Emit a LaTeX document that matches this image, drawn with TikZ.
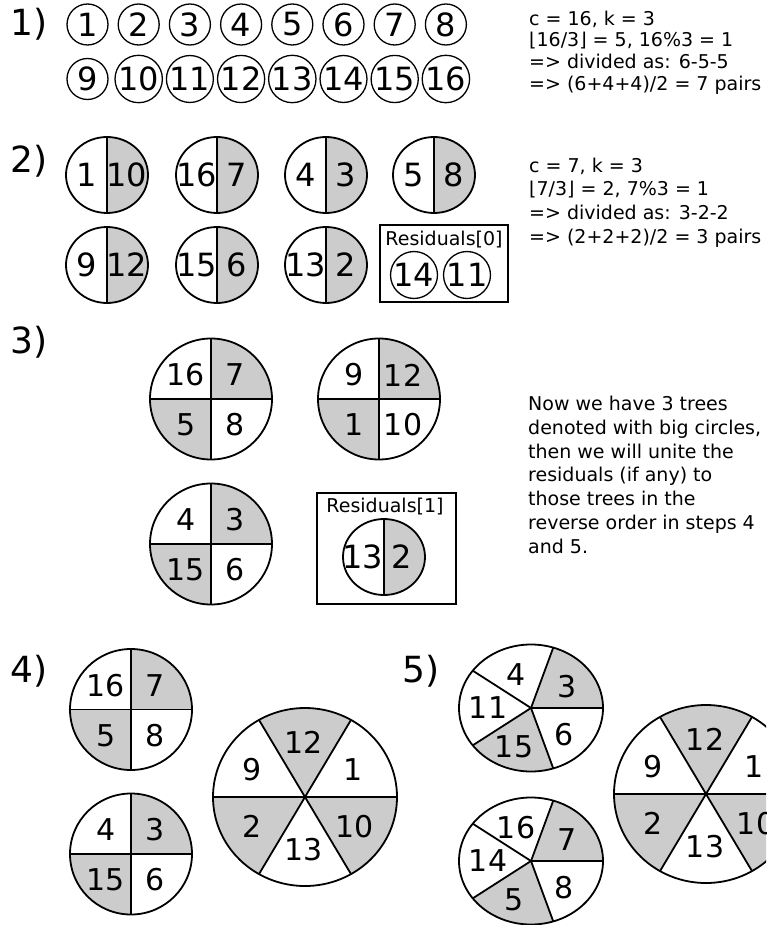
\documentclass[tikz,border=0pt]{standalone}
\usepackage{fontspec}
\setmainfont{DejaVu Sans}
\usepackage{tikz}
\usetikzlibrary{positioning}
\definecolor{pairGray}{HTML}{CCCCCC}
\newcommand{\numfont}{\fontsize{32}{32}\selectfont}
\newcommand{\treefont}{\fontsize{30}{30}\selectfont}
\newcommand{\stepfont}{\fontsize{36}{36}\selectfont}
\tikzset{
  leaf/.style={circle, draw, line width=1.3pt, minimum size=41pt,
    inner sep=0pt, font=\numfont},
  rim/.style={draw=black, line width=1.8pt},
  cut/.style={draw=black, line width=1.8pt},
  thincut/.style={draw=black, line width=1.3pt},
  shade/.style={fill=pairGray},
  pairnum/.style={font=\numfont, inner sep=0pt},
  treenum/.style={font=\treefont, inner sep=0pt},
  steplabel/.style={font=\stepfont, anchor=base west, inner sep=0pt},
  note/.style={align=left, anchor=north west, inner sep=0pt},
  resbox/.style={draw, line width=1.4pt, inner sep=0pt},
  restitle/.style={font=\fontsize{19}{19}\selectfont, inner sep=0pt},
}

\begin{document}
\begin{tikzpicture}[x=1pt, y=-1pt]
    \useasboundingbox (0,0) rectangle (766,925);
    \clip (0,0) rectangle (766,925);
    \node[steplabel] (lab1) at (10,36) {1)};
    \node[steplabel] (lab2) at (10,173) {2)};
    \node[steplabel] (lab3) at (10,353) {3)};
    \node[steplabel] (lab4) at (10,682) {4)};
    \node[steplabel] (lab5) at (402,682) {5)};
    % step 1: single leaves
    \foreach \n [count=\i from 0] in {1,...,8}
      \node[leaf] (leaf\n) at (87.5+51.2*\i, 24.5) {\n};
    \foreach \n [count=\i from 0] in {9,...,16}
      \node[leaf] (leaf\n) at (87.5+51.2*\i, 79) {\n};
    \node[note, font=\fontsize{19}{21.7}\selectfont] (note1) at (529,10.6)
      {c = 16, k = 3\\ ⌊16/3⌋ = 5, 16\%3 = 1\\ => divided as: 6-5-5\\
       => (6+4+4)/2 = 7 pairs};
    % step 2: pairs
    \foreach \x/\y/\nA/\nB [count=\k] in {107/175/1/10, 217/175/16/7,
        326/175/4/3, 434/175/5/8, 107/265/9/12, 217/265/15/6, 326/265/13/2} {
      \fill[shade] (\x,\y-38) arc[start angle=-90, end angle=90,
        x radius=41, y radius=38] -- cycle;
      \draw[thincut] (\x,\y-38) -- (\x,\y+38);
      \draw[rim] (\x,\y) ellipse[x radius=41, y radius=38];
      \node[pairnum] (pairL\k) at (\x-20,\y) {\nA};
      \node[pairnum] (pairR\k) at (\x+20,\y) {\nB};
    }
    \node[resbox, minimum width=128pt, minimum height=77pt] (res0)
      at (444,263.5) {};
    \node[restitle] (res0title) at (444,240) {Residuals[0]};
    \node[leaf] (leaf14r) at (414,275) {14};
    \node[leaf] (leaf11r) at (467,275) {11};
    \node[note, font=\fontsize{19}{23.7}\selectfont] (note2) at (529,157.6)
      {c = 7, k = 3\\ ⌊7/3⌋ = 2, 7\%3 = 1\\ => divided as: 3-2-2\\
       => (2+2+2)/2 = 3 pairs};
    % steps 3 and 4: trees of four
    \foreach \x/\y/\nA/\nB/\nC/\nD [count=\k] in {211/399/16/7/5/8,
        379/399/9/12/1/10, 211/544/4/3/15/6, 131/709.5/16/7/5/8,
        131/854/4/3/15/6} {
      \fill[shade] (\x,\y) -- (\x,\y-60.5) arc[start angle=-90, end angle=0,
        x radius=61, y radius=60.5] -- cycle;
      \fill[shade] (\x,\y) -- (\x,\y+60.5) arc[start angle=90, end angle=180,
        x radius=61, y radius=60.5] -- cycle;
      \draw[cut] (\x-61,\y) -- (\x+61,\y) (\x,\y-60.5) -- (\x,\y+60.5);
      \draw[rim] (\x,\y) ellipse[x radius=61, y radius=60.5];
      \node[treenum] (quadA\k) at (\x-25,\y-24) {\nA};
      \node[treenum] (quadB\k) at (\x+24,\y-24) {\nB};
      \node[treenum] (quadC\k) at (\x-25,\y+26) {\nC};
      \node[treenum] (quadD\k) at (\x+24,\y+26) {\nD};
    }
    \node[resbox, minimum width=139pt, minimum height=111pt] (res1)
      at (386.5,548.5) {};
    \node[restitle] (res1title) at (385,507) {Residuals[1]};
    \fill[shade] (384,519) arc[start angle=-90, end angle=90,
      x radius=41, y radius=38] -- cycle;
    \draw[thincut] (384,519) -- (384,595);
    \draw[rim] (384,557) ellipse[x radius=41, y radius=38];
    \node[pairnum] (res1L) at (363,557) {13};
    \node[pairnum] (res1R) at (402,557) {2};
    \node[note, font=\fontsize{19}{23.9}\selectfont] (note3) at (528,395.6)
      {Now we have 3 trees\\ denoted with big circles,\\
       then we will unite the\\ residuals (if any) to\\
       those trees in the\\ reverse order in steps 4\\ and 5.};
    % steps 4 and 5: the tree of six
    \foreach \x/\y [count=\k] in {305/797, 706/794} {
      \foreach \s in {-120,0,120}
        \fill[shade] (\x,\y) -- ++(\s:92 and 89) arc[start angle=\s,
          end angle=\s+60, x radius=92, y radius=89] -- cycle;
      \foreach \s in {0,60,120}
        \draw[cut] (\x,\y) -- ++(\s:92 and 89) (\x,\y) -- ++(\s+180:92 and 89);
      \draw[rim] (\x,\y) ellipse[x radius=92, y radius=89];
      \node[treenum] (wheel12-\k) at (\x-1,\y-55) {12};
      \node[treenum] (wheel1-\k) at (\x+48,\y-27) {1};
      \node[treenum] (wheel9-\k) at (\x-53,\y-27) {9};
      \node[treenum] (wheel2-\k) at (\x-53,\y+29) {2};
      \node[treenum] (wheel13-\k) at (\x-1,\y+53) {13};
      \node[treenum] (wheel10-\k) at (\x+50,\y+30) {10};
    }
    % step 5: trees of five
    \foreach \x/\y/\nA/\nB/\nC/\nD/\nE [count=\k] in {531/708/4/3/11/15/6,
        531/861/16/7/14/5/8} {
      \fill[shade] (\x,\y) -- ++(-72:72 and 63.5) arc[start angle=-72,
        end angle=0, x radius=72, y radius=63.5] -- cycle;
      \fill[shade] (\x,\y) -- ++(72:72 and 63.5) arc[start angle=72,
        end angle=144, x radius=72, y radius=63.5] -- cycle;
      \foreach \s in {0,72,144,216,288}
        \draw[cut] (\x,\y) -- ++(\s:72 and 63.5);
      \draw[rim] (\x,\y) ellipse[x radius=72, y radius=63.5];
      \node[treenum] (pentA\k) at (\x-15,\y-33) {\nA};
      \node[treenum] (pentB\k) at (\x+36,\y-21) {\nB};
      \node[treenum] (pentC\k) at (\x-43,\y) {\nC};
      \node[treenum] (pentD\k) at (\x-17,\y+39) {\nD};
      \node[treenum] (pentE\k) at (\x+33,\y+27) {\nE};
    }
\end{tikzpicture}
\end{document}
